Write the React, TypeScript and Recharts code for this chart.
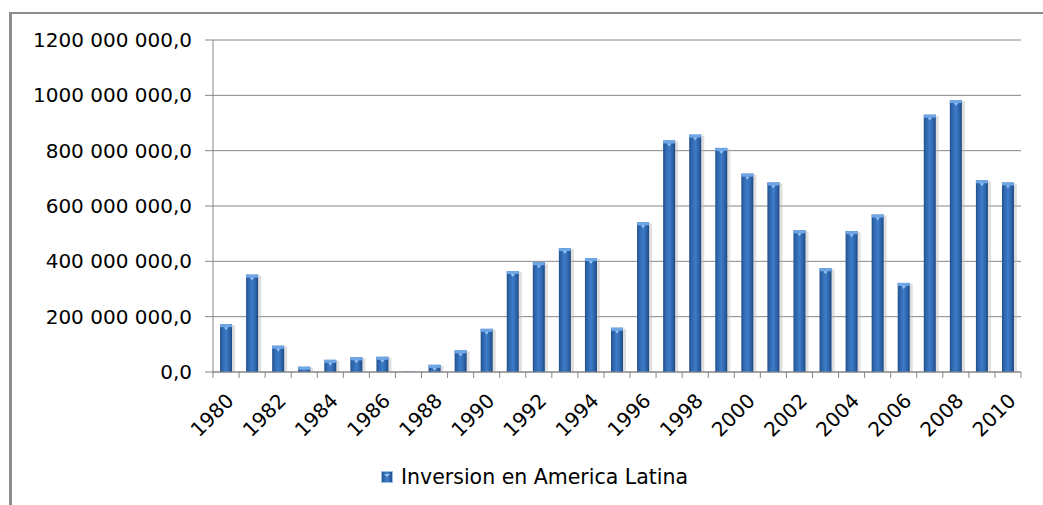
import React from 'react';
import { BarChart, Bar, XAxis, YAxis, CartesianGrid, Legend } from 'recharts';

const years = [
  1980, 1981, 1982, 1983, 1984, 1985, 1986, 1987, 1988, 1989,
  1990, 1991, 1992, 1993, 1994, 1995, 1996, 1997, 1998, 1999,
  2000, 2001, 2002, 2003, 2004, 2005, 2006, 2007, 2008, 2009, 2010,
];
const inversion = [
  173000000, 352000000, 95000000, 19000000, 44000000, 53000000, 55000000, 1000000, 26000000, 78000000,
  156000000, 365000000, 397000000, 448000000, 412000000, 160000000, 541000000, 837000000, 858000000, 810000000,
  717000000, 685000000, 512000000, 375000000, 509000000, 569000000, 322000000, 930000000, 983000000, 693000000, 685000000,
];
const yTicks = [0, 200000000, 400000000, 600000000, 800000000, 1000000000, 1200000000];
const yTickLabels = [
  '0,0', '200 000 000,0', '400 000 000,0', '600 000 000,0', '800 000 000,0', '1000 000 000,0', '1200 000 000,0',
];
const seriesName = 'Inversion en America Latina';

const data = years.map((y, i) => ({ year: String(y), value: inversion[i] }));

const FONT = '"DejaVu Sans", sans-serif';
const AXIS = '#868686';

const XTick = (props: any) => {
  const { x, y, payload } = props;
  const idx = payload.index ?? props.index ?? 0;
  const off = payload.offset ?? 0;
  const last = idx === years.length - 1;
  const ax = x + 9;
  const ay = y + 30;
  return (
    <g>
      <line x1={x - off} y1={y} x2={x - off} y2={y + 6} stroke={AXIS} strokeWidth={1} />
      {last && <line x1={x + off} y1={y} x2={x + off} y2={y + 6} stroke={AXIS} strokeWidth={1} />}
      {idx % 2 === 0 && (
        <text
          x={ax}
          y={ay}
          textAnchor="end"
          fontFamily={FONT}
          fontSize={20}
          fill="#000"
          transform={`rotate(-45, ${ax}, ${ay})`}
        >
          {payload.value}
        </text>
      )}
    </g>
  );
};

const YTick = (props: any) => {
  const { x, y, payload } = props;
  const i = yTicks.indexOf(payload.value);
  return (
    <text x={x} y={y} dy={7} textAnchor="end" fontFamily={FONT} fontSize={20} fill="#000">
      {i >= 0 ? yTickLabels[i] : String(payload.value)}
    </text>
  );
};

const BarShape = (props: any) => {
  const { x, y, width, height } = props;
  if (!height || height <= 0 || !width) return <g />;
  const cap = Math.min(3, height);
  return (
    <g>
      <rect x={x + 1} y={y + 1} width={width + 2} height={Math.max(0, height - 1)} fill="#b9b9b9" opacity={0.45} />
      <rect x={x} y={y} width={width} height={height} fill="url(#barGrad)" />
      <rect x={x} y={y} width={width} height={cap} fill="#6ea6e6" />
      {height > 6 && (
        <polygon
          points={`${x + width / 2 - 2},${y + cap} ${x + width / 2 + 2},${y + cap} ${x + width / 2},${y + cap + 3}`}
          fill="#9cc6f2"
        />
      )}
    </g>
  );
};

const LegendContent = () => (
  <div style={{ display: 'flex', alignItems: 'center', fontFamily: FONT, fontSize: 20.5, color: '#000', whiteSpace: 'nowrap' }}>
    <svg width={12} height={12} style={{ marginRight: 8 }}>
      <defs>
        <linearGradient id="legGrad" x1="0" y1="0" x2="1" y2="0">
          <stop offset="0%" stopColor="#22508e" />
          <stop offset="50%" stopColor="#4282d0" />
          <stop offset="100%" stopColor="#1d4a85" />
        </linearGradient>
      </defs>
      <rect x={0.5} y={0.5} width={11} height={11} fill="url(#legGrad)" stroke="#9bbce3" strokeWidth={1} />
      <polygon points="3,3 9,3 6,6" fill="#9cc6f2" />
    </svg>
    <span>{seriesName}</span>
  </div>
);

export default function App() {
  return (
    <div style={{ position: 'absolute', left: 0, top: 0, width: 1043, height: 505, background: '#fff', overflow: 'hidden' }}>
      <div
        style={{
          position: 'absolute',
          left: 9,
          top: 12,
          width: 1100,
          height: 600,
          borderTop: '2px solid #8c8c8c',
          borderLeft: '3px solid #8c8c8c',
        }}
      />
      <div style={{ position: 'absolute', left: 0, top: 0 }}>
        <BarChart
          width={1043}
          height={505}
          data={data}
          margin={{ top: 40, right: 22, bottom: 0, left: 13 }}
          barCategoryGap="27%"
        >
          <defs>
            <linearGradient id="barGrad" x1="0" y1="0" x2="1" y2="0">
              <stop offset="0%" stopColor="#234f8c" />
              <stop offset="20%" stopColor="#2f67ad" />
              <stop offset="50%" stopColor="#3d7cc9" />
              <stop offset="80%" stopColor="#2d63a8" />
              <stop offset="100%" stopColor="#1c4680" />
            </linearGradient>
          </defs>
          <CartesianGrid vertical={false} stroke={AXIS} strokeWidth={1} />
          <XAxis
            dataKey="year"
            interval={0}
            height={133}
            tickSize={0}
            tickMargin={0}
            tickLine={false}
            axisLine={{ stroke: AXIS }}
            tick={<XTick />}
          />
          <YAxis
            width={200}
            domain={[0, 1200000000]}
            ticks={yTicks}
            tickSize={8}
            tickMargin={13}
            tickLine={{ stroke: AXIS }}
            axisLine={{ stroke: AXIS }}
            tick={<YTick />}
          />
          <Legend
            verticalAlign="middle"
            align="center"
            layout="horizontal"
            wrapperStyle={{ top: 465, left: 381, width: 'auto', height: 'auto' }}
            content={<LegendContent />}
          />
          <Bar dataKey="value" name={seriesName} fill="#3d7cc9" shape={<BarShape />} isAnimationActive={false} />
        </BarChart>
      </div>
    </div>
  );
}
